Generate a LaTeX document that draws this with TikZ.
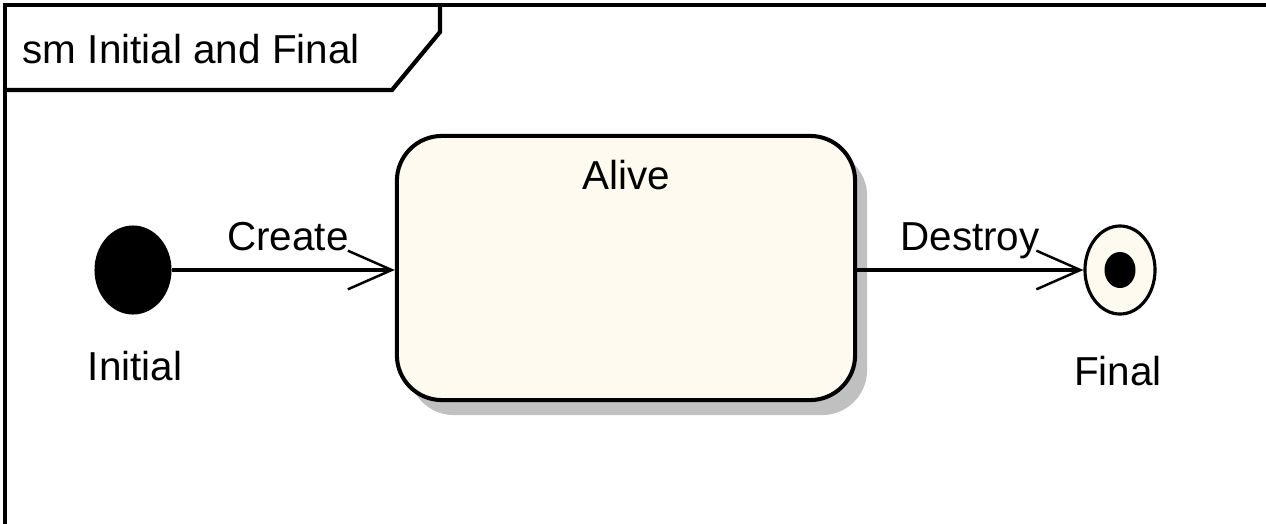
\documentclass[tikz,border=0pt]{standalone}
\usepackage{fontspec}
\setmainfont{Liberation Sans}
\usepackage{tikz}
\usepackage{xcolor}
\usetikzlibrary{shapes, positioning, arrows.meta, shadows}

\definecolor{statefill}{RGB}{254,250,240}
\definecolor{shadowgray}{RGB}{192,192,192}

\tikzset{
    txt/.style={font=\fontsize{11.5}{13}\selectfont, inner sep=0pt},
    frame/.style={line width=1.2pt},
    initstate/.style={ellipse, fill=black, minimum width=0.77cm, minimum height=0.89cm, inner sep=0pt},
    finalstate/.style={ellipse, draw, line width=0.9pt, fill=statefill, minimum width=0.70cm, minimum height=0.88cm, inner sep=0pt},
    finaldot/.style={ellipse, fill=black, minimum width=0.31cm, minimum height=0.36cm, inner sep=0pt},
    simplestate/.style={draw, line width=1.15pt, fill=statefill, rounded corners=0.45cm,
        minimum width=4.58cm, minimum height=2.64cm,
        drop shadow={shadow xshift=0.12cm, shadow yshift=-0.15cm, fill=shadowgray, opacity=1}},
    trans/.style={line width=1.1pt, -{Straight Barb[length=12.5pt, width=11pt, line width=0.7pt]}}
}

\begin{document}
\begin{tikzpicture}[x=0.01cm, y=-0.01cm]
        \useasboundingbox (0, 0) rectangle (1266, 524);

        \draw[frame] (5, 524) -- (5, 5) -- (1266, 5);
        \draw[frame] (5, 90) -- (392, 90) -- (440, 32) -- (440, 5);
        \node[txt, anchor=base west] (title) at (22, 63) {sm Initial and Final};

        \node[initstate] (initial) at (133, 270) {};
        \node[txt, anchor=base] (initiallabel) at (135, 380) {Initial};

        \node[simplestate, label={[txt, anchor=base, yshift=-0.56cm]north:Alive}] (alive) at (626, 268) {};

        \node[finalstate] (final) at (1120, 270) {};
        \node[finaldot] (finalcore) at (final.center) {};
        \node[txt, anchor=base] (finallabel) at (1118, 385) {Final};

        \draw[trans] (initial) -- (initial -| alive.west);
        \draw[trans] (alive.east |- final) -- (final);
        \node[txt, anchor=base] (create) at (288, 250) {Create};
        \node[txt, anchor=base] (destroy) at (970, 250) {Destroy};
    \end{tikzpicture}
\end{document}
